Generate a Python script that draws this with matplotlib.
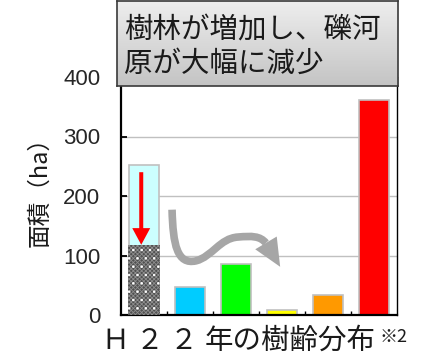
import numpy as np
import matplotlib
matplotlib.use("Agg")
import matplotlib.pyplot as plt
from matplotlib.colors import LinearSegmentedColormap
from matplotlib.patches import FancyArrowPatch, PathPatch
from matplotlib.path import Path

plt.rcParams["font.family"] = ["Noto Sans CJK JP", "DejaVu Sans"]
plt.rcParams["hatch.linewidth"] = 0.6

# area (ha) per tree-age class, H22
area_ha = [252, 47, 86, 9, 33, 362]
gravel_left = 118
bar_colors = ["#CCFFFF", "#00CCFF", "#00FF00", "#FFFF00", "#FF9900", "#FF0000"]
y_ticks = [0, 100, 200, 300, 400]

W, H = 432, 358
fig = plt.figure(figsize=(W / 100, H / 100), dpi=100)
ax = fig.add_axes([121 / W, 1 - 315 / H, 276 / W, 238 / H])

x = np.arange(len(area_ha))
ax.bar(x, area_ha, width=0.67, color=bar_colors, edgecolor="#C0C0C0",
       linewidth=1.2, zorder=2)
# remaining gravel bed: fine grey texture with white dots
ax.bar(x[0], gravel_left, width=0.69, color="#505050", edgecolor="#8E8E8E",
       hatch="xxxxxxxx", linewidth=0, zorder=3)
ax.bar(x[0], gravel_left, width=0.69, fill=False, edgecolor="white",
       hatch="..", linewidth=0, zorder=3)

ax.set_xlim(-0.5, len(area_ha) - 0.5)
ax.set_ylim(0, 400)
ax.set_yticks(y_ticks)
ax.set_xticks([])
ax.set_xticks(np.arange(len(area_ha) - 1) + 0.5, minor=True)
ax.grid(axis="y", color="#C0C0C0", linewidth=1, zorder=0)
ax.set_axisbelow(True)
ax.tick_params(axis="y", direction="in", length=4, width=1.3, pad=15,
               labelsize=16, labelcolor="#262626")
ax.tick_params(axis="x", which="minor", direction="in", length=3, width=1)
for lab in ax.get_yticklabels():
    lab.set_family("Liberation Sans")
for side in ["left", "bottom"]:
    ax.spines[side].set_linewidth(1.6)
ax.spines["right"].set_linewidth(1.0)

# red arrow: gravel bed shrinking
ax.arrow(-0.06, 240, 0, gravel_left - 240, width=0.087, head_width=0.39,
         head_length=28, length_includes_head=True, color="red", lw=0,
         zorder=4)

# grey wavy arrow
verts = [(0.61, 177), (0.63, 118), (0.72, 84), (1.13, 91),
         (1.48, 98), (1.65, 129), (2.04, 131),
         (2.35, 133), (2.52, 133), (2.65, 121)]
codes = [Path.MOVETO] + [Path.CURVE4] * 9
ax.add_patch(PathPatch(Path(verts, codes), fill=False, edgecolor="#A6A6A6",
                       linewidth=5.5, capstyle="butt", zorder=5))
ax.add_patch(FancyArrowPatch(posA=(2.50, 141), posB=(2.96, 81),
                             arrowstyle="-|>,head_length=2.0,head_width=0.9",
                             mutation_scale=10, color="#A6A6A6", lw=0,
                             shrinkA=0, shrinkB=0, zorder=5))

# title box with grey gradient
box = fig.add_axes([117 / W, 1 - 86 / H, 281 / W, 85 / H])
grad = np.linspace(0, 1, 100).reshape(-1, 1)
box.imshow(grad, aspect="auto", extent=[0, 1, 0, 1], origin="upper",
           cmap=LinearSegmentedColormap.from_list("g", ["#EEEEEE", "#C4C4C4"]))
box.set_xticks([])
box.set_yticks([])
for s in box.spines.values():
    s.set_color("#3A3A3A")
    s.set_linewidth(1.2)
fig.text(124 / W, 1 - 30 / H, "樹林が増加し、礫河", fontsize=20.5, ha="left",
         va="center", color="#1A1A1A")
fig.text(124 / W, 1 - 64 / H, "原が大幅に減少", fontsize=20.5, ha="left",
         va="center", color="#1A1A1A")

fig.text(40 / W, 1 - 186 / H, "面積（ha）", fontsize=17, rotation=90,
         ha="center", va="center", color="#1A1A1A")
fig.text(102 / W, 1 - 341 / H, "Ｈ ２ ２", fontsize=20,
         ha="left", va="center", color="#1A1A1A")
fig.text(205 / W, 1 - 341 / H, "年の樹齢分布", fontsize=20.5,
         ha="left", va="center", color="#1A1A1A")
fig.text(379 / W, 1 - 337 / H, "※2", fontsize=13, ha="left", va="center",
         color="#1A1A1A")

fig.savefig("out.png", dpi=100)
